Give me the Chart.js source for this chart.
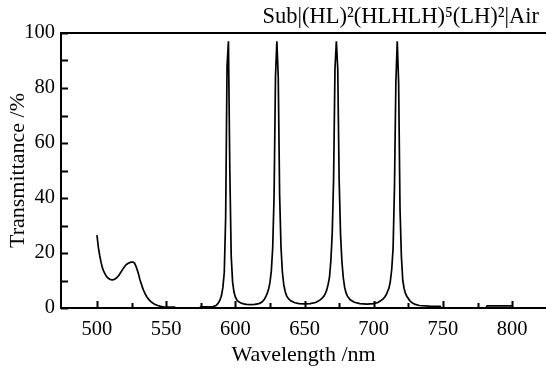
<!DOCTYPE html>
<html>
<head>
<meta charset="utf-8">
<script src="https://cdn.jsdelivr.net/npm/chart.js@4.4.0/dist/chart.umd.min.js"></script>
<style>
  html, body { margin: 0; padding: 0; background: #fff; }
  #wrap { width: 546px; height: 371px; position: relative; }
</style>
</head>
<body>
<div id="wrap"><canvas id="specChart"></canvas></div>
<script>
// Transmittance spectrum
const wavelengths = [
  500, 501, 502, 503, 504, 505, 506, 507, 508, 509, 510, 511, 512, 513, 514, 515, 516, 517, 518, 519,
  520, 521, 522, 523, 524, 525, 526, 527, 528, 529, 530, 531, 532, 533, 534, 535, 536, 537, 538, 539,
  540, 542, 544, 546, 548, 551, 556, 557, 574, 575, 584, 586, 587, 588, 589, 590, 591, 592, 593, 594,
  595, 596, 597, 598, 599, 600, 601, 602, 604, 606, 608, 611, 614, 617, 619, 620, 621, 622, 623, 624,
  625, 626, 627, 628, 629, 630, 631, 632, 633, 634, 635, 636, 637, 638, 640, 643, 646, 650, 654, 658,
  660, 662, 664, 665, 666, 667, 668, 669, 670, 671, 672, 673, 674, 675, 676, 677, 678, 679, 680, 681,
  683, 686, 690, 695, 700, 703, 705, 707, 708, 709, 710, 711, 712, 713, 714, 715, 716, 717, 718, 719,
  720, 721, 722, 723, 724, 726, 728, 730, 733, 740, 748, 749, 781, 782, 800
];
const transmittance = [
  26.5, 22, 19, 16.5, 14.5, 13.2, 12.2, 11.4, 10.9, 10.5, 10.3, 10.2, 10.3, 10.5, 10.9, 11.4, 12.0, 12.8, 13.6, 14.4,
  15.1, 15.7, 16.1, 16.4, 16.6, 16.7, 16.7, 16.4, 15.4, 14.0, 12.4, 10.4, 8.8, 7.3, 6.0, 5.0, 4.1, 3.4, 2.8, 2.3,
  1.9, 1.3, 0.9, 0.6, 0.4, 0.3, 0.3, 0, 0, 0.4, 0.5, 0.9, 1.4, 2.1, 3.0, 4.6, 7.5, 13, 33, 88,
  97, 50, 19, 9.5, 5.8, 4.0, 3.0, 2.4, 1.8, 1.5, 1.3, 1.2, 1.3, 1.6, 2.1, 2.6, 3.2, 4.1, 5.3, 6.8,
  9.2, 13.5, 22, 41, 84, 97, 84, 41, 22, 13, 8.5, 6, 4.5, 3.6, 2.6, 1.9, 1.6, 1.5, 1.6, 2.0,
  2.5, 3.2, 4.3, 5.2, 6.5, 8.5, 11, 17, 27, 47, 87, 97, 87, 47, 27, 17, 11, 7.5, 5.5, 4.3,
  3.0, 2.1, 1.6, 1.4, 1.6, 2.0, 2.6, 3.4, 4.0, 4.8, 6.0, 7.2, 9.7, 14, 21.7, 44, 82, 97, 82, 36,
  18.7, 10, 7, 5.2, 4.2, 2.7, 1.8, 1.3, 0.9, 0.7, 0.6, 0, 0, 0.8, 0.8
];

const xTicks = [500, 525, 550, 575, 600, 625, 650, 675, 700, 725, 750, 775, 800];
const xLabels = [500, 550, 600, 650, 700, 750, 800];
const yTicks = [0, 10, 20, 30, 40, 50, 60, 70, 80, 90, 100];
const yLabels = [0, 20, 40, 60, 80, 100];

const titleText = 'Sub|(HL)\u00B2(HLHLH)\u2075(LH)\u00B2|Air';
const serif = "'Liberation Serif', 'DejaVu Serif', serif";

// inward tick marks, top frame line and the stack title
const framePlugin = {
    id: 'frame',
    afterDraw(chart) {
        const { ctx, chartArea, scales } = chart;
        ctx.save();
        ctx.strokeStyle = '#000';
        ctx.lineWidth = 2;
        ctx.beginPath();
        xTicks.forEach(v => {
            const px = Math.round(scales.x.getPixelForValue(v)) + 0.5;
            const len = xLabels.includes(v) ? 7 : 5;
            ctx.moveTo(px, chartArea.bottom);
            ctx.lineTo(px, chartArea.bottom - len);
        });
        yTicks.forEach(v => {
            const py = Math.round(scales.y.getPixelForValue(v)) + 0.5;
            ctx.moveTo(chartArea.left, py);
            ctx.lineTo(chartArea.left + 7, py);
        });
        ctx.stroke();

        ctx.beginPath();
        ctx.moveTo(chartArea.left, chartArea.top);
        ctx.lineTo(chart.width, chartArea.top);
        ctx.stroke();

        ctx.fillStyle = '#000';
        ctx.font = '22.5px ' + serif;
        ctx.textAlign = 'right';
        ctx.textBaseline = 'middle';
        ctx.fillText(titleText, 539, 17);
        ctx.restore();
    }
};

new Chart(document.getElementById('specChart'), {
    type: 'line',
    data: {
        datasets: [{
            data: wavelengths.map((w, i) => ({ x: w, y: transmittance[i] })),
            borderColor: '#000',
            borderWidth: 1.7,
            pointRadius: 0,
            tension: 0,
            fill: false
        }]
    },
    options: {
        responsive: true,
        maintainAspectRatio: false,
        animation: false,
        layout: { padding: { top: 33, right: 0, left: 0, bottom: 0 } },
        plugins: {
            legend: { display: false },
            tooltip: { enabled: false }
        },
        scales: {
            x: {
                type: 'linear',
                min: 474,
                max: 824.5,
                afterBuildTicks: scale => { scale.ticks = xLabels.map(v => ({ value: v })); },
                afterFit: scale => { scale.height = 63; },
                grid: { display: false, drawTicks: false },
                border: { display: true, color: '#000', width: 2 },
                ticks: {
                    color: '#000',
                    padding: 9,
                    maxRotation: 0,
                    font: { family: serif, size: 20.5 }
                },
                title: {
                    display: true,
                    text: 'Wavelength /nm',
                    color: '#000',
                    font: { family: serif, size: 22 },
                    padding: { top: 0, bottom: 3 }
                }
            },
            y: {
                min: 0,
                max: 100,
                afterBuildTicks: scale => { scale.ticks = yLabels.map(v => ({ value: v })); },
                afterFit: scale => { scale.width = 61; },
                grid: { display: false, drawTicks: false },
                border: { display: true, color: '#000', width: 2 },
                ticks: {
                    color: '#000',
                    padding: 6,
                    font: { family: serif, size: 20.5 }
                },
                title: {
                    display: true,
                    text: 'Transmittance /%',
                    color: '#000',
                    font: { family: serif, size: 22 },
                    padding: { top: 5, bottom: 0 }
                }
            }
        }
    },
    plugins: [framePlugin]
});
</script>
</body>
</html>
